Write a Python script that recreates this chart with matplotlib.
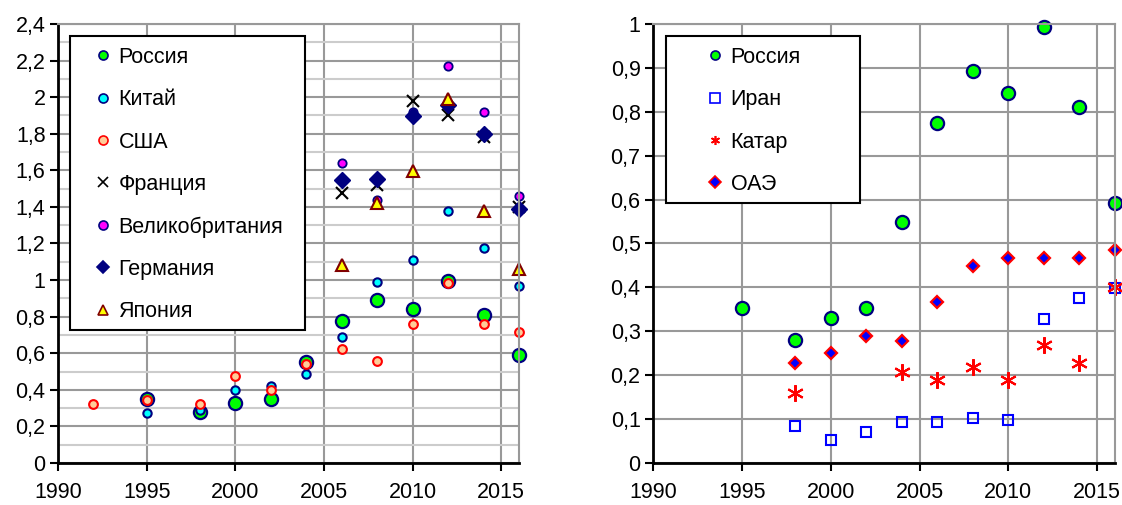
import matplotlib
matplotlib.use('Agg')
import matplotlib.pyplot as plt
from matplotlib.ticker import MultipleLocator, FuncFormatter
from matplotlib.patches import Rectangle

plt.rcParams['font.family'] = ['Liberation Sans', 'DejaVu Sans']

# data
years = [1995, 1998, 2000, 2002, 2004, 2006, 2008, 2010, 2012, 2014, 2016]
years_usa = [1992] + years
years_new = [2006, 2008, 2010, 2012, 2014, 2016]

russia = [0.352, 0.28, 0.33, 0.352, 0.55, 0.775, 0.893, 0.843, 0.993, 0.81, 0.592]
china = [0.276, 0.29, 0.398, 0.42, 0.485, 0.69, 0.99, 1.11, 1.375, 1.177, 0.967]
usa = [0.32, 0.344, 0.32, 0.473, 0.398, 0.54, 0.625, 0.56, 0.758, 0.982, 0.758, 0.715]
france = [1.478, 1.52, 1.98, 1.90, 1.78, 1.40]
uk = [1.64, 1.44, 1.92, 2.17, 1.92, 1.46]
germany = [1.545, 1.555, 1.895, 1.955, 1.80, 1.39]
japan = [1.08, 1.42, 1.595, 1.99, 1.38, 1.06]

years_r = [1998, 2000, 2002, 2004, 2006, 2008, 2010, 2012, 2014, 2016]
years_qatar = [1998, 2004, 2006, 2008, 2010, 2012, 2014, 2016]
iran = [0.085, 0.052, 0.070, 0.093, 0.093, 0.102, 0.098, 0.329, 0.375, 0.399]
qatar = [0.159, 0.208, 0.190, 0.218, 0.189, 0.268, 0.228, 0.40]
oae = [0.227, 0.25, 0.29, 0.277, 0.367, 0.449, 0.468, 0.468, 0.468, 0.486]

left_labels = ['Россия', 'Китай', 'США', 'Франция', 'Великобритания', 'Германия', 'Япония']
right_labels = ['Россия', 'Иран', 'Катар', 'ОАЭ']

W, H = 1122, 505
fig = plt.figure(figsize=(W / 100, H / 100), dpi=100)


def px_axes(x0, y0, x1, y1):
    return fig.add_axes([x0 / W, 1 - y1 / H, (x1 - x0) / W, (y1 - y0) / H])


def comma(v, pos):
    return ('%g' % round(v, 2)).replace('.', ',')


def style(ax, ymax, ymajor, yminor):
    ax.set_xlim(1990, 2016)
    ax.set_ylim(0, ymax)
    ax.xaxis.set_major_locator(MultipleLocator(5))
    ax.yaxis.set_major_locator(MultipleLocator(ymajor))
    ax.yaxis.set_major_formatter(FuncFormatter(comma))
    ax.set_axisbelow(True)
    ax.grid(which='major', color='#999999', lw=1.5)
    if yminor:
        ax.yaxis.set_minor_locator(MultipleLocator(yminor))
        ax.grid(which='minor', axis='y', color='#cccccc', lw=1.5)
    ax.tick_params(which='minor', length=0)
    ax.tick_params(which='major', direction='out', length=6, width=1.5,
                   labelsize=15.5, colors='black')
    ax.tick_params(axis='x', pad=8)
    ax.tick_params(axis='y', pad=3)
    for s in ['left', 'bottom']:
        ax.spines[s].set_linewidth(2)
        ax.spines[s].set_color('black')
    for s in ['top', 'right']:
        ax.spines[s].set_linewidth(1.5)
        ax.spines[s].set_color('#999999')


def legend_box(ax, x0, y0, x1, y1, hx, ty, labels):
    ax.add_patch(Rectangle((x0 / W, 1 - y1 / H), (x1 - x0) / W, (y1 - y0) / H,
                           transform=fig.transFigure, facecolor='white',
                           edgecolor='black', lw=1.5, zorder=4, clip_on=False))
    leg = ax.legend(labels, loc='upper left', bbox_to_anchor=(hx / W, 1 - ty / H),
                    bbox_transform=fig.transFigure, frameon=False, fontsize=15.5,
                    borderpad=0, borderaxespad=0, handlelength=0.75,
                    handletextpad=0.35, labelspacing=0.99)
    leg.set_zorder(5)
    for h in leg.legend_handles:
        h.set_markersize(6.5)
        h.set_markeredgewidth(1.2)
    return leg


# left chart
ax1 = px_axes(58, 24, 519, 463)
style(ax1, 2.4, 0.2, 0.1)
kw = dict(ls='none', clip_on=False)
ax1.plot(years, russia, marker='o', ms=9.5, mfc='#00ff00', mec='#000080', mew=1.6, **kw)
ax1.plot(years, china, marker='o', ms=6, mfc='#00ffff', mec='#000080', mew=1.5, **kw)
ax1.plot(years_usa, usa, marker='o', ms=6.3, mfc='#ffcc99', mec='#ff0000', mew=1.5, **kw)
ax1.plot(years_new, france, marker='x', ms=9, mec='black', mew=1.5, **kw)
ax1.plot(years_new, uk, marker='o', ms=6, mfc='#ff00ff', mec='#000080', mew=1.3, **kw)
ax1.plot(years_new, germany, marker='D', ms=8, mfc='#000080', mec='#000080', mew=1, **kw)
ax1.plot(years_new, japan, marker='^', ms=9, mfc='#ffff00', mec='#800000', mew=1.5, **kw)
legend_box(ax1, 70, 36, 305, 330, 95, 47, left_labels)

# right chart
ax2 = px_axes(653, 24, 1115, 463)
style(ax2, 1.0, 0.1, None)
ax2.plot(years, russia, marker='o', ms=9.5, mfc='#00ff00', mec='#000080', mew=1.6, **kw)
ax2.plot(years_r, iran, marker='s', ms=6.5, mfc='none', mec='#0000ff', mew=1.5, **kw)
ax2.plot(years_qatar, qatar, marker=(6, 2, 0), ms=12, mec='#ff0000', mew=1.5, **kw)
ax2.plot(years_r, oae, marker='D', ms=6, mfc='#0000ff', mec='#ff0000', mew=1.6, **kw)
legend_box(ax2, 666, 36, 860, 203, 707, 47, right_labels)

fig.savefig('out.png', dpi=100)
